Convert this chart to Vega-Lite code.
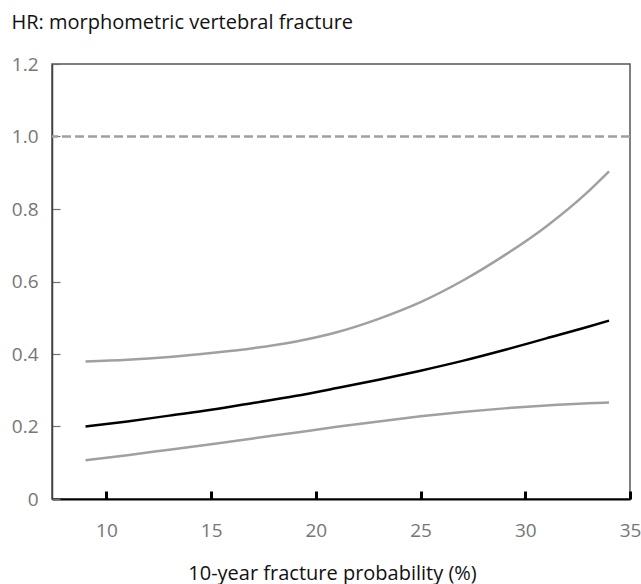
{
  "$schema": "https://vega.github.io/schema/vega-lite/v6.json",
  "width": 578,
  "height": 435,
  "autosize": {"type": "none"},
  "padding": {"left": 52, "top": 64, "right": 11, "bottom": 85},
  "background": "white",
  "config": {
    "font": "Open Sans",
    "view": {"stroke": "#555555", "strokeWidth": 1.5}
  },
  "datasets": {
    "curves": [
      {"x": 9, "series": "upper", "y": 0.379}, {"x": 11, "series": "upper", "y": 0.384}, {"x": 13, "series": "upper", "y": 0.392},
      {"x": 15, "series": "upper", "y": 0.403}, {"x": 17, "series": "upper", "y": 0.416}, {"x": 19, "series": "upper", "y": 0.434},
      {"x": 21, "series": "upper", "y": 0.46}, {"x": 23, "series": "upper", "y": 0.497}, {"x": 25, "series": "upper", "y": 0.543},
      {"x": 27, "series": "upper", "y": 0.602}, {"x": 29, "series": "upper", "y": 0.672}, {"x": 31, "series": "upper", "y": 0.752},
      {"x": 33, "series": "upper", "y": 0.848}, {"x": 34, "series": "upper", "y": 0.904},
      {"x": 9, "series": "hr", "y": 0.2}, {"x": 11, "series": "hr", "y": 0.214}, {"x": 13, "series": "hr", "y": 0.23},
      {"x": 15, "series": "hr", "y": 0.246}, {"x": 17, "series": "hr", "y": 0.265}, {"x": 19, "series": "hr", "y": 0.284},
      {"x": 21, "series": "hr", "y": 0.306}, {"x": 23, "series": "hr", "y": 0.329}, {"x": 25, "series": "hr", "y": 0.354},
      {"x": 27, "series": "hr", "y": 0.381}, {"x": 29, "series": "hr", "y": 0.411}, {"x": 31, "series": "hr", "y": 0.443},
      {"x": 33, "series": "hr", "y": 0.475}, {"x": 34, "series": "hr", "y": 0.492},
      {"x": 9, "series": "lower", "y": 0.107}, {"x": 11, "series": "lower", "y": 0.121}, {"x": 13, "series": "lower", "y": 0.136},
      {"x": 15, "series": "lower", "y": 0.151}, {"x": 17, "series": "lower", "y": 0.167}, {"x": 19, "series": "lower", "y": 0.183},
      {"x": 21, "series": "lower", "y": 0.199}, {"x": 23, "series": "lower", "y": 0.214}, {"x": 25, "series": "lower", "y": 0.228},
      {"x": 27, "series": "lower", "y": 0.24}, {"x": 29, "series": "lower", "y": 0.25}, {"x": 31, "series": "lower", "y": 0.258},
      {"x": 33, "series": "lower", "y": 0.264}, {"x": 34, "series": "lower", "y": 0.266}
    ],
    "ref": [{"y": 1.0}]
  },
  "layer": [
    {
      "data": {"name": "ref"},
      "mark": {"type": "rule", "stroke": "#a0a0a0", "strokeWidth": 2.5, "strokeDash": [9, 4]},
      "encoding": {"y": {"field": "y", "type": "quantitative"}}
    },
    {
      "data": {"name": "curves"},
      "mark": {"type": "line", "strokeWidth": 2.5, "interpolate": "monotone"},
      "encoding": {
        "x": {
          "field": "x", "type": "quantitative",
          "scale": {"domain": [7.4, 35], "nice": false, "zero": false},
          "axis": {
            "title": "10-year fracture probability (%)",
            "values": [10, 15, 20, 25, 30, 35],
            "grid": false,
            "domainColor": "#000000", "domainWidth": 2,
            "tickColor": "#000000", "tickWidth": 3, "tickSize": -8,
            "labelPadding": 39, "labelFontSize": 19, "labelColor": "#767676",
            "labelBaseline": "middle", "labelFlush": false,
            "titleFontSize": 20, "titleFontWeight": "normal", "titleColor": "#111111",
            "titleX": 280, "titleY": 74, "titleBaseline": "middle", "titleAnchor": "middle", "titleAlign": "center"
          }
        },
        "y": {
          "field": "y", "type": "quantitative",
          "scale": {"domain": [0, 1.2], "nice": false},
          "axis": {
            "title": "HR: morphometric vertebral fracture",
            "values": [0, 0.2, 0.4, 0.6, 0.8, 1.0, 1.2],
            "labelExpr": "datum.value == 0 ? '0' : format(datum.value, '.1f')",
            "grid": false,
            "domainColor": "#404040", "domainWidth": 1.5,
            "tickColor": "#707070", "tickWidth": 1.2, "tickSize": -8,
            "labelPadding": 22, "labelFontSize": 19, "labelColor": "#767676",
            "labelBaseline": "middle", "labelFlush": false,
            "titleFontSize": 20, "titleFontWeight": "normal", "titleColor": "#111111",
            "titleAngle": 0, "titleX": -41, "titleY": -42, "titleAlign": "left", "titleBaseline": "middle", "titleAnchor": null
          }
        },
        "color": {
          "field": "series", "type": "nominal",
          "scale": {"domain": ["lower", "hr", "upper"], "range": ["#a0a0a0", "#000000", "#a0a0a0"]},
          "legend": null
        }
      }
    }
  ]
}
